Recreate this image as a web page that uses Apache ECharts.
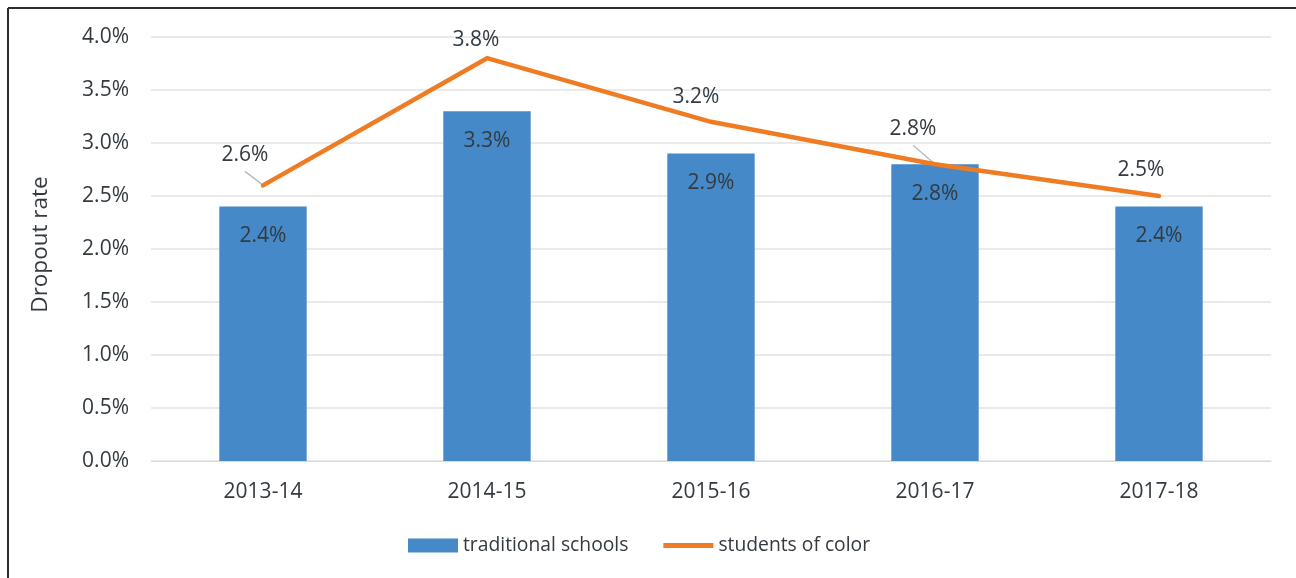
<!DOCTYPE html>
<html>
<head>
<meta charset="utf-8">
<script src="https://cdn.jsdelivr.net/npm/echarts@6/dist/echarts.min.js"></script>
<style>
  html, body { margin: 0; padding: 0; background: #fff; }
  #chart { width: 1296px; height: 578px; }
</style>
</head>
<body>
<div id="chart"></div>
<script>
const years = ['2013-14', '2014-15', '2015-16', '2016-17', '2017-18'];
const traditionalSchools = [2.4, 3.3, 2.9, 2.8, 2.4];
const studentsOfColor = [2.6, 3.8, 3.2, 2.8, 2.5];
// label nudges for the line values, and which get a leader line
const lineLabelOffsets = [[-18, -30], [-11, -18], [-15, -25], [-22, -35], [-18, -26]];
const lineLabelLeaders = [true, false, false, true, false];

const FONT = '"Open Sans", "Noto Sans", sans-serif';
const TEXT = '#333a40';
const LEADER = '#b8bcc0';

const leaderData = studentsOfColor
  .map((v, i) => [i, v])
  .filter(d => lineLabelLeaders[d[0]]);

const chart = echarts.init(document.getElementById('chart'), null, { renderer: 'canvas' });

chart.setOption({
  animation: false,
  backgroundColor: '#fff',
  textStyle: { fontFamily: FONT, color: TEXT },
  grid: { left: 151, right: 25, top: 37, bottom: 117 },
  graphic: [
    { type: 'line', shape: { x1: 8, y1: 8, x2: 8, y2: 578 }, style: { stroke: '#2b2f33', lineWidth: 2 } },
    { type: 'line', shape: { x1: 8, y1: 8, x2: 1296, y2: 8 }, style: { stroke: '#2b2f33', lineWidth: 2 } }
  ],
  legend: {
    bottom: 18,
    left: 403,
    itemGap: 35,
    itemWidth: 50,
    itemHeight: 14,
    textStyle: { fontFamily: FONT, fontSize: 19.3, color: TEXT },
    data: [
      { name: 'traditional schools', icon: 'rect' },
      { name: 'students of color', icon: 'path://M0,0 L52,0 L52,5 L0,5 Z' }
    ]
  },
  xAxis: {
    type: 'category',
    data: years,
    axisLine: { show: true, lineStyle: { color: '#d9d9d9', width: 1 } },
    axisTick: { show: false },
    axisLabel: { fontFamily: FONT, fontSize: 21, color: TEXT, margin: 21 }
  },
  yAxis: {
    type: 'value',
    min: 0,
    max: 4,
    interval: 0.5,
    name: 'Dropout rate',
    nameLocation: 'middle',
    nameGap: 99,
    nameRotate: 90,
    nameTextStyle: { fontFamily: FONT, fontSize: 22.5, color: TEXT, padding: [0, 0, 0, 9] },
    axisLine: { show: false },
    axisTick: { show: false },
    splitLine: { lineStyle: { color: '#e3e3e3', width: 1.5 } },
    axisLabel: {
      fontFamily: FONT, fontSize: 21, color: TEXT, margin: 22,
      formatter: v => v.toFixed(1) + '%'
    }
  },
  series: [
    {
      name: 'traditional schools',
      type: 'bar',
      data: traditionalSchools,
      barWidth: '39%',
      itemStyle: { color: '#4689c8' },
      label: {
        show: true,
        position: 'insideTop',
        distance: 19,
        fontFamily: FONT,
        fontSize: 21,
        color: TEXT,
        formatter: p => p.value.toFixed(1) + '%'
      }
    },
    {
      // leader lines from the moved value labels back to their points
      name: 'leaders',
      type: 'custom',
      z: 1,
      silent: true,
      data: leaderData,
      renderItem: (params, api) => {
        const i = api.value(0);
        const p = api.coord([i, api.value(1)]);
        const off = lineLabelOffsets[i];
        return {
          type: 'line',
          shape: { x1: p[0] + off[0], y1: p[1] + off[1] + 16, x2: p[0] - 1, y2: p[1] - 1 },
          style: { stroke: LEADER, lineWidth: 1.5 }
        };
      }
    },
    {
      name: 'students of color',
      type: 'line',
      z: 3,
      data: studentsOfColor.map((v, i) => ({
        value: v,
        label: { offset: lineLabelOffsets[i] }
      })),
      symbol: 'circle',
      symbolSize: 2,
      showSymbol: true,
      itemStyle: { color: '#ef7b22' },
      lineStyle: { color: '#ef7b22', width: 4.5, cap: 'round', join: 'round' },
      label: {
        show: true,
        position: 'inside',
        fontFamily: FONT,
        fontSize: 21,
        color: TEXT,
        formatter: p => p.value.toFixed(1) + '%'
      }
    }
  ]
});
</script>
</body>
</html>
